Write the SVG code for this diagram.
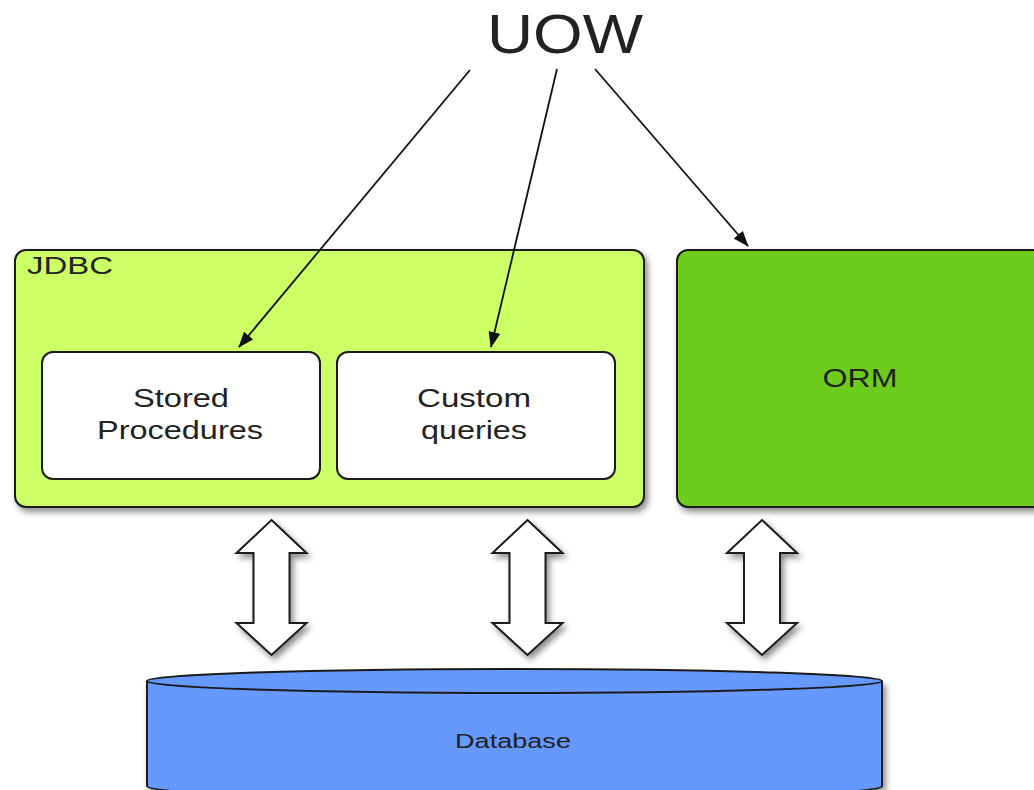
<svg xmlns="http://www.w3.org/2000/svg" width="1034" height="790" viewBox="0 0 1034 790">
  <defs>
    <filter id="shadow" x="-10%" y="-10%" width="130%" height="130%">
      <feDropShadow dx="3" dy="4" stdDeviation="3" flood-color="#000" flood-opacity="0.45"/>
    </filter>
    <marker id="head" viewBox="0 0 16 12" refX="15" refY="6" markerWidth="16" markerHeight="12" markerUnits="userSpaceOnUse" orient="auto">
      <path d="M0,0 L16,6 L0,12 Z" fill="#111"/>
    </marker>
    <!-- double-headed block arrow, centred on x=0, spanning y 0..135 -->
    <path id="dbl" d="M0,0 L35,33 L18,33 L18,103 L35,103 L0,135 L-35,103 L-18,103 L-18,33 L-35,33 Z"/>
  </defs>
  <style>
    .label { font-family: "Liberation Sans", Arial, sans-serif; fill: #222; }
    .box { stroke: #1a1a1a; stroke-width: 2; }
    .conn { stroke: #111; stroke-width: 1.8; fill: none; }
    .blk { fill: #fff; stroke: #1a1a1a; stroke-width: 2; stroke-linejoin: miter; }
  </style>

  <rect width="1034" height="790" fill="#fff"/>

  <!-- UOW title -->
  <g id="uow">
    <text class="label" x="565" y="53" font-size="56" text-anchor="middle" textLength="156" lengthAdjust="spacingAndGlyphs" fill="#111">UOW</text>
  </g>

  <!-- JDBC container -->
  <g id="jdbc">
    <rect class="box" x="15" y="250" width="629" height="257" rx="11" fill="#ccff66" filter="url(#shadow)"/>
    <text class="label" x="27" y="274" font-size="23" textLength="86" lengthAdjust="spacingAndGlyphs">JDBC</text>
  </g>

  <g id="stored-procedures">
    <rect class="box" x="42" y="352" width="278" height="127" rx="11" fill="#fff"/>
    <text class="label" x="181" y="407" font-size="26" text-anchor="middle" textLength="96" lengthAdjust="spacingAndGlyphs">Stored</text>
    <text class="label" x="180" y="439" font-size="26" text-anchor="middle" textLength="166" lengthAdjust="spacingAndGlyphs">Procedures</text>
  </g>

  <g id="custom-queries">
    <rect class="box" x="337" y="352" width="278" height="127" rx="11" fill="#fff"/>
    <text class="label" x="474" y="407" font-size="26" text-anchor="middle" textLength="114" lengthAdjust="spacingAndGlyphs">Custom</text>
    <text class="label" x="474" y="439" font-size="26" text-anchor="middle" textLength="106" lengthAdjust="spacingAndGlyphs">queries</text>
  </g>

  <!-- ORM -->
  <g id="orm">
    <rect class="box" x="677" y="250" width="380" height="257" rx="11" fill="#6dcc1a" filter="url(#shadow)"/>
    <text class="label" x="860" y="387" font-size="25" text-anchor="middle" textLength="75" lengthAdjust="spacingAndGlyphs" fill="#1a2a10">ORM</text>
  </g>

  <!-- Database cylinder -->
  <g id="database">
    <path class="box" d="M147,681 L147,786 A367.5,14 0 0 0 882,786 L882,681" fill="#6699ff" filter="url(#shadow)"/>
    <ellipse class="box" cx="514.5" cy="681" rx="367.5" ry="12" fill="#6699ff"/>
    <text class="label" x="513" y="748" font-size="20" text-anchor="middle" textLength="116" lengthAdjust="spacingAndGlyphs" fill="#1a2a5a">Database</text>
  </g>

  <!-- connectors -->
  <g id="connectors">
    <line class="conn" x1="470" y1="70" x2="239" y2="347" marker-end="url(#head)"/>
    <line class="conn" x1="557" y1="69" x2="491" y2="347" marker-end="url(#head)"/>
    <line class="conn" x1="595" y1="69" x2="748" y2="246" marker-end="url(#head)"/>
    <use href="#dbl" class="blk" x="271.5" y="520" filter="url(#shadow)"/>
    <use href="#dbl" class="blk" x="527.5" y="520" filter="url(#shadow)"/>
    <use href="#dbl" class="blk" x="762" y="520" filter="url(#shadow)"/>
  </g>
</svg>
